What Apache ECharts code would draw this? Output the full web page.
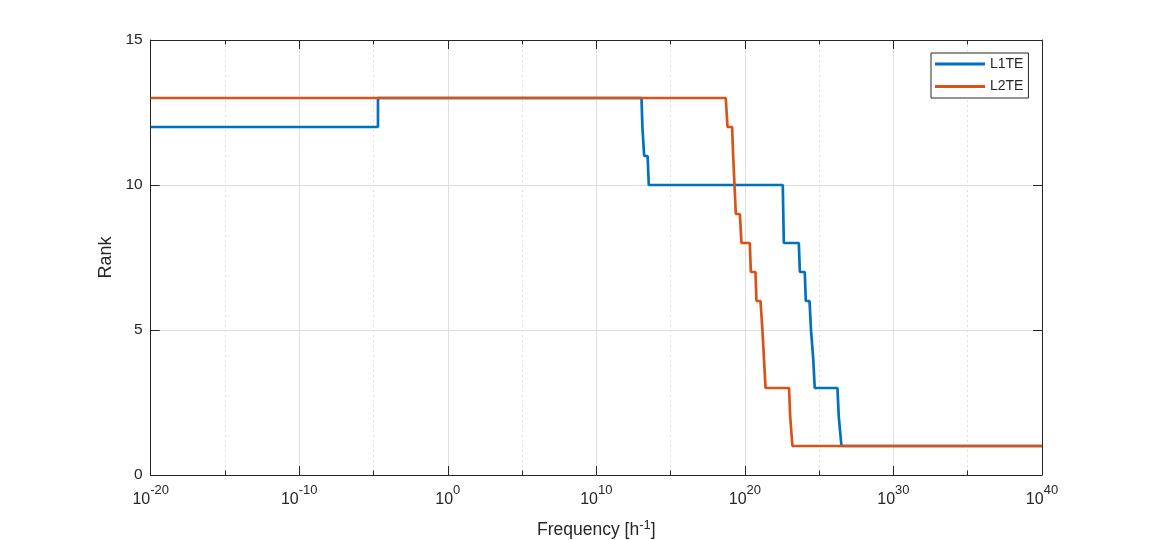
<!DOCTYPE html>
<html>
<head>
<meta charset="utf-8">
<script src="https://cdn.jsdelivr.net/npm/echarts@6/dist/echarts.min.js"></script>
<style>html,body{margin:0;padding:0;background:#fff}#c{width:1152px;height:540px}</style>
</head>
<body>
<div id="c"></div>
<script>
// log10 of frequency [h^-1] and rank
const l1teLog10Freq = [-20, -4.70, -4.70, 13.04, 13.10, 13.15, 13.22, 13.45, 13.53, 22.55, 22.62, 23.63, 23.70, 24.03, 24.10, 24.35, 24.45, 24.54, 24.60, 24.64, 24.70, 26.23, 26.32, 26.39, 26.50, 40];
const l1teRank      = [12, 12, 13, 13, 12, 12, 11, 11, 10, 10, 8, 8, 7, 7, 6, 6, 5, 5, 4, 4, 3, 3, 2, 2, 1, 1];
const l2teLog10Freq = [-20, 18.71, 18.83, 19.14, 19.21, 19.32, 19.39, 19.66, 19.77, 20.33, 20.40, 20.71, 20.78, 21.05, 21.18, 21.39, 22.97, 23.05, 23.08, 23.20, 40];
const l2teRank      = [13, 13, 12, 12, 11, 11, 9, 9, 8, 8, 7, 7, 6, 6, 5, 3, 3, 2, 2, 1, 1];
const xTickExponents = [-20, -10, 0, 10, 20, 30, 40];
const yTicks = [0, 5, 10, 15];

const TXT = '#262626';
const GRID = '#dfdfdf';
const chart = echarts.init(document.getElementById('c'), null, {renderer: 'canvas'});
const pair = (xs, ys) => xs.map((x, i) => [x, ys[i]]);
const font = 'Liberation Sans, Arial, sans-serif';

chart.setOption({
  animation: false,
  backgroundColor: '#fff',
  textStyle: {fontFamily: font, color: TXT},
  grid: {left: 150.7, right: 110, top: 40, bottom: 65, containLabel: false, outerBoundsMode: 'none'},
  legend: {
    orient: 'vertical', left: 931, top: 53,
    data: ['L1TE', 'L2TE'],
    icon: 'rect', itemWidth: 50, itemHeight: 3, itemGap: 8.4,
    padding: [4, 5, 4.6, 4],
    borderColor: TXT, borderWidth: 1, backgroundColor: '#fff',
    textStyle: {fontFamily: font, fontSize: 14, color: TXT, lineHeight: 14}
  },
  xAxis: [{
    type: 'value', min: xTickExponents[0], max: xTickExponents[xTickExponents.length - 1], interval: 10,
    position: 'bottom',
    name: 'Frequency [h{s|-1}]', nameLocation: 'middle', nameGap: 44,
    nameTextStyle: {fontFamily: font, fontSize: 17.5, color: TXT,
      rich: {s: {fontFamily: font, fontSize: 13, color: TXT, verticalAlign: 'bottom', padding: [0, 0, 9, 0]}}},
    axisLine: {show: true, onZero: false, lineStyle: {color: TXT, width: 1}},
    axisTick: {show: true, inside: true, length: 9, lineStyle: {color: TXT}},
    minorTick: {show: true, splitNumber: 2, length: 4.5, lineStyle: {color: TXT}},
    splitLine: {show: true, lineStyle: {color: GRID, width: 1}},
    minorSplitLine: {show: true, lineStyle: {color: GRID, width: 1, type: [2, 3]}},
    axisLabel: {
      margin: 9,
      formatter: v => '{b|10}{s|' + v + '}',
      rich: {
        b: {fontFamily: font, fontSize: 16, color: TXT, verticalAlign: 'bottom'},
        s: {fontFamily: font, fontSize: 13, color: TXT, verticalAlign: 'bottom', padding: [0, 0, 11, 0]}
      }
    }
  }, {
    type: 'value', min: xTickExponents[0], max: xTickExponents[xTickExponents.length - 1], interval: 10,
    position: 'top',
    axisLine: {show: true, onZero: false, lineStyle: {color: TXT, width: 1}},
    axisTick: {show: true, inside: true, length: 9, lineStyle: {color: TXT}},
    minorTick: {show: true, splitNumber: 2, length: 4.5, lineStyle: {color: TXT}},
    splitLine: {show: false},
    axisLabel: {show: false}
  }],
  yAxis: [{
    type: 'value', min: yTicks[0], max: yTicks[yTicks.length - 1], interval: 5,
    position: 'left',
    name: 'Rank', nameLocation: 'middle', nameGap: 31, nameRotate: 90,
    nameTextStyle: {fontFamily: font, fontSize: 18, color: TXT},
    axisLine: {show: true, onZero: false, lineStyle: {color: TXT, width: 1}},
    axisTick: {show: true, inside: true, length: 9, lineStyle: {color: TXT}},
    splitLine: {show: true, lineStyle: {color: GRID, width: 1}},
    axisLabel: {margin: 8, fontFamily: font, fontSize: 15.5, color: TXT}
  }, {
    type: 'value', min: yTicks[0], max: yTicks[yTicks.length - 1], interval: 5,
    position: 'right',
    axisLine: {show: true, onZero: false, lineStyle: {color: TXT, width: 1}},
    axisTick: {show: true, inside: true, length: 9, lineStyle: {color: TXT}},
    splitLine: {show: false},
    axisLabel: {show: false}
  }],
  series: [{
    name: 'L1TE', type: 'line', data: pair(l1teLog10Freq, l1teRank),
    xAxisIndex: 0, yAxisIndex: 0,
    showSymbol: false, symbol: 'none', color: '#0072BD',
    lineStyle: {color: '#0072BD', width: 2.7}, clip: true, z: 3
  }, {
    name: 'L2TE', type: 'line', data: pair(l2teLog10Freq, l2teRank),
    xAxisIndex: 0, yAxisIndex: 0,
    showSymbol: false, symbol: 'none', color: '#D95319',
    lineStyle: {color: '#D95319', width: 2.7}, clip: true, z: 4
  }]
});
</script>
</body>
</html>
